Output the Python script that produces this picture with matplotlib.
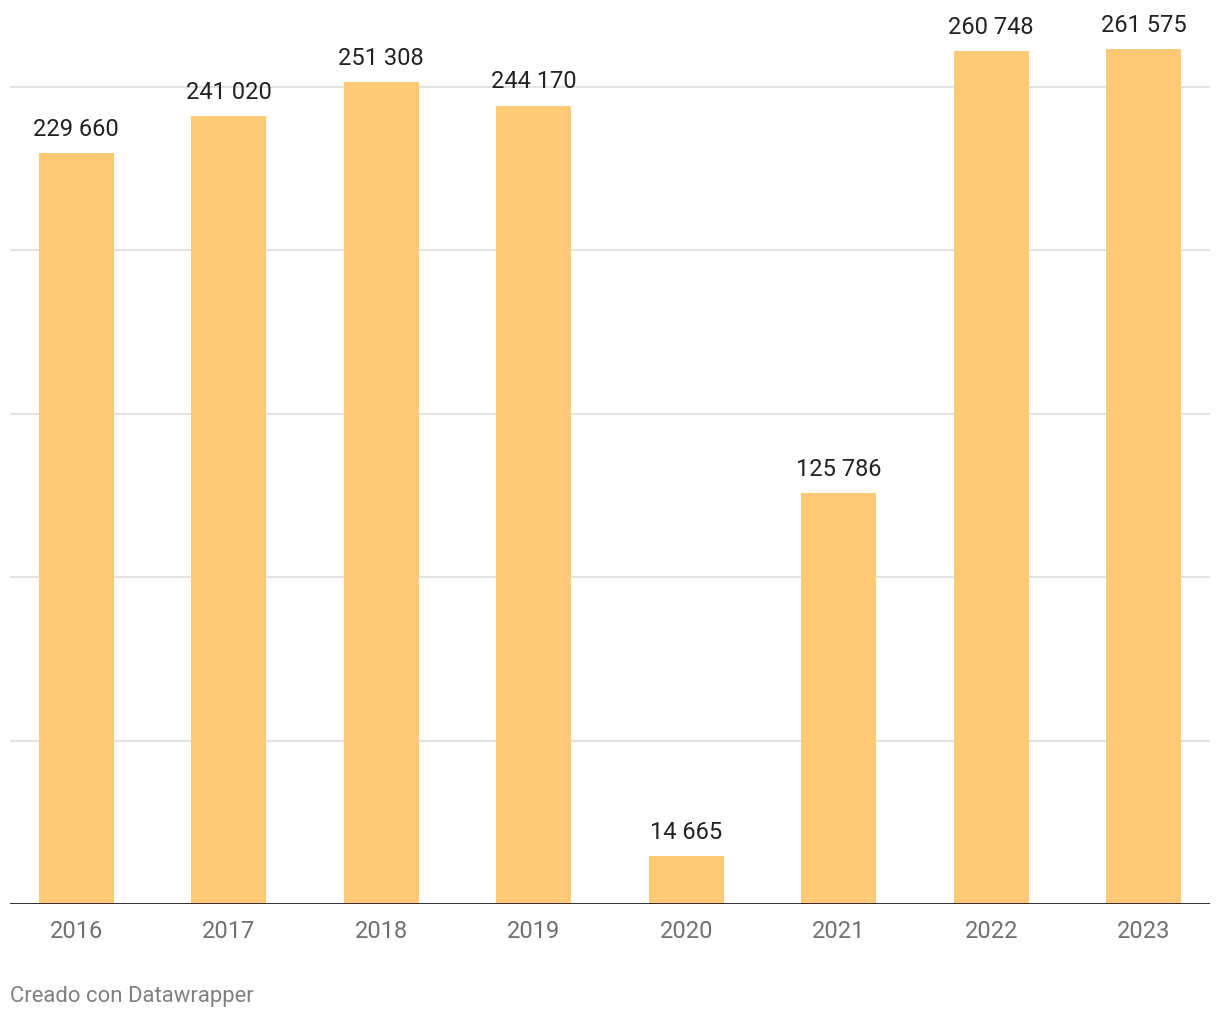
import numpy as np
from matplotlib import pyplot as plt

plt.rcParams['font.family'] = ['Roboto', 'DejaVu Sans']

anios = ['2016', '2017', '2018', '2019', '2020', '2021', '2022', '2023']
valores = [229660, 241020, 251308, 244170, 14665, 125786, 260748, 261575]
etiquetas = ['229 660', '241 020', '251 308', '244 170', '14 665', '125 786', '260 748', '261 575']
grid_y = [50000, 100000, 150000, 200000, 250000]

fig = plt.figure(figsize=(12.2, 10.2), dpi=100)
ax = fig.add_axes([10/1220, 115/1020, 1200/1220, 905/1020])

x = np.arange(len(anios))
for g in grid_y:
    ax.axhline(g, color='#e3e3e3', lw=1.5, zorder=0)
ax.bar(x, valores, width=0.49, color='#fec976', zorder=2)
ax.axhline(0, color='#1d1d1d', lw=2, zorder=3)

for xi, v, t in zip(x, valores, etiquetas):
    ax.annotate(t, xy=(xi, v), xytext=(0, 9.5), textcoords='offset points',
                ha='center', va='bottom', fontsize=17, color='#222222')

ax.set_xlim(-0.435, 7.435)
ax.set_ylim(0, 276800)
ax.set_xticks(x)
ax.set_xticklabels(anios, fontsize=17, color='#707070')
ax.tick_params(axis='x', length=0, pad=11)
ax.set_yticks([])
for s in ax.spines.values():
    s.set_visible(False)

fig.text(10/1220, 1 - 997/1020, 'Creado con Datawrapper', fontsize=15.9,
         color='#808080', ha='left', va='center')

fig.savefig('out.png', dpi=100, facecolor='white')
